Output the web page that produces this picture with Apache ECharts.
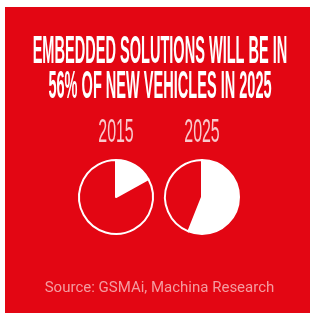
<!DOCTYPE html>
<html>
<head>
<meta charset="utf-8">
<script src="https://cdn.jsdelivr.net/npm/echarts@6/dist/echarts.min.js"></script>
<style>
html,body{margin:0;padding:0;background:#fff;}
#chart{width:310px;height:313px;}
</style>
</head>
<body>
<div id="chart"></div>
<script>
var titleLines = ['EMBEDDED SOLUTIONS WILL BE IN', '56% OF NEW VEHICLES IN 2025'];
var years = ['2015', '2025'];
var embeddedShare = [17, 56];
var sourceText = 'Source: GSMAi, Machina Research';

var RED = '#e30613';
var WHITE = '#ffffff';
var pieCenters = [[116, 197], [202, 197]];

var chart = echarts.init(document.getElementById('chart'), null, {renderer: 'canvas'});

function txt(x, y, sx, text, size, weight, family, fill) {
  return {type: 'text', x: x, y: y, scaleX: sx, silent: true,
    style: {text: text, fill: fill, fontSize: size, fontWeight: weight, fontFamily: family, textAlign: 'center', textVerticalAlign: 'middle'}};
}

var graphics = [
  {type: 'rect', shape: {x: 5, y: 7, width: 305, height: 306}, style: {fill: RED}, z: -10, silent: true},
  txt(160, 52.5, 0.383, titleLines[0], 38, 'bold', 'Liberation Sans', WHITE),
  txt(160, 88, 0.383, titleLines[1], 38, 'bold', 'Liberation Sans', WHITE),
  txt(159.5, 288.5, 1, sourceText, 15, 'normal', 'Roboto', '#f49ba0')
];
years.forEach(function (y, i) {
  graphics.push(txt(pieCenters[i][0], 133, 0.483, y, 33, 'normal', 'Liberation Sans', '#f8c9cc'));
});

var series = years.map(function (y, i) {
  return {
    type: 'pie',
    center: pieCenters[i],
    radius: 37,
    startAngle: 90,
    clockwise: true,
    silent: true,
    label: {show: false},
    labelLine: {show: false},
    emphasis: {disabled: true},
    itemStyle: {borderColor: WHITE, borderWidth: 2},
    data: [
      {name: 'Embedded', value: embeddedShare[i], itemStyle: {color: WHITE}},
      {name: 'Other', value: 100 - embeddedShare[i], itemStyle: {color: RED}}
    ]
  };
});

chart.setOption({
  animation: false,
  backgroundColor: '#ffffff',
  graphic: graphics,
  series: series
});
</script>
</body>
</html>
